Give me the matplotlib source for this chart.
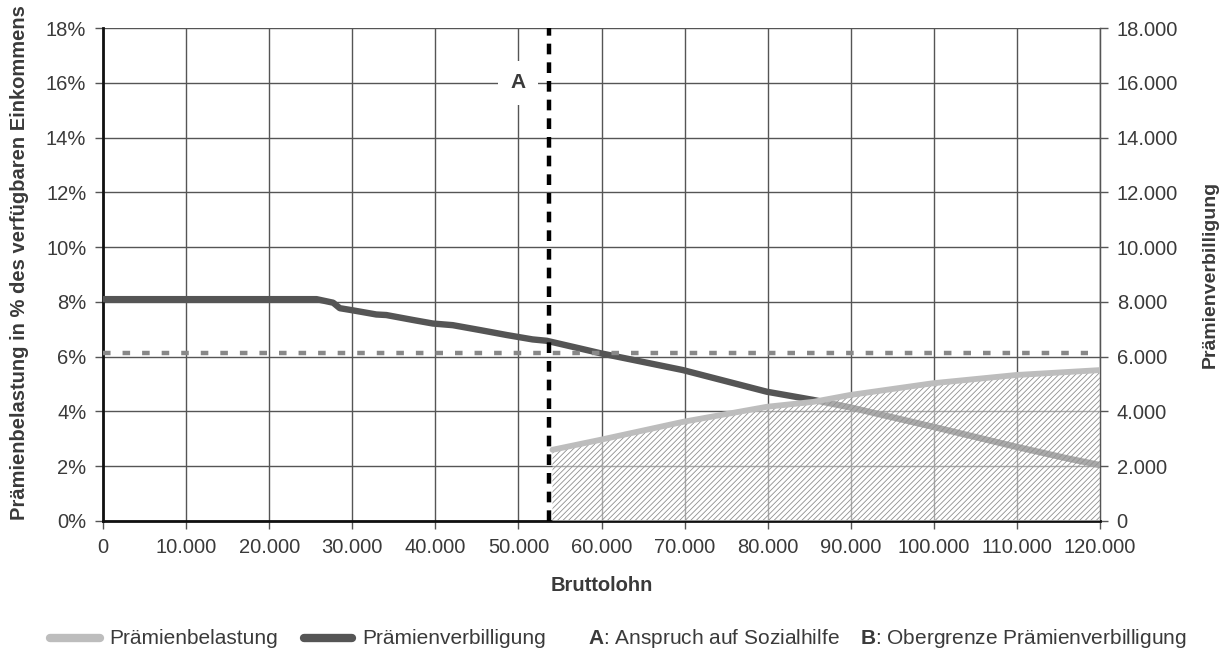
import matplotlib

matplotlib.use("Agg")
import matplotlib.pyplot as plt  # noqa: E402
from matplotlib.lines import Line2D  # noqa: E402
from matplotlib.ticker import FuncFormatter  # noqa: E402

plt.rcParams["font.family"] = ["Liberation Sans", "DejaVu Sans"]
plt.rcParams["mathtext.fontset"] = "custom"
plt.rcParams["mathtext.bf"] = "Liberation Sans:bold"
plt.rcParams["mathtext.rm"] = "Liberation Sans"
plt.rcParams["hatch.linewidth"] = 0.6

# Prämienverbilligung (CHF, right axis)
verb_lohn = [0, 25700, 27700, 28500, 29900, 32900, 34100, 37300, 39700, 42100,
             45400, 48600, 51700, 53400, 57400, 59800, 69800, 79900, 85500,
             89900, 99900, 109900, 116000, 120000]
verb_chf = [8100, 8100, 7970, 7770, 7700, 7540, 7520, 7340, 7210, 7150,
            6970, 6790, 6630, 6580, 6300, 6130, 5510, 4720, 4420,
            4150, 3440, 2710, 2290, 2040]

# Prämienbelastung (% of disposable income, left axis)
bel_lohn = [54100, 59800, 69800, 79900, 85500, 89900, 99900, 109900, 120000]
bel_pct = [2.6, 2.96, 3.62, 4.17, 4.35, 4.6, 5.03, 5.33, 5.51]

obergrenze_pct = 6.15
sozialhilfe_lohn = 53700

x_ticks = list(range(0, 120001, 10000))
y_ticks = list(range(0, 19, 2))

TXT = "#3a3a3a"


def dotted_thousands(v, _pos=None):
    return f"{int(round(v)):,}".replace(",", ".")


fig = plt.figure(figsize=(12.19, 6.55), dpi=100)
ax = fig.add_axes([103 / 1219, 1 - 521 / 655, (1100 - 103) / 1219, (521 - 28) / 655])

ax.set_xlim(0, 120000)
ax.set_ylim(0, 18)
ax.set_xticks(x_ticks)
ax.set_yticks(y_ticks)
ax.xaxis.set_major_formatter(FuncFormatter(dotted_thousands))
ax.yaxis.set_major_formatter(FuncFormatter(lambda v, p: f"{int(v)}%"))
ax.grid(True, color="#555555", linewidth=1.0, zorder=0)
ax.set_axisbelow(True)

for side in ("left", "bottom"):
    ax.spines[side].set_linewidth(2.0)
    ax.spines[side].set_color("#111111")
ax.spines["top"].set_visible(False)
ax.spines["right"].set_color("#555555")
ax.spines["right"].set_linewidth(1.0)
ax.tick_params(axis="both", direction="out", length=6, width=1, color="#555555",
               labelsize=14.5, labelcolor=TXT, pad=6)

# dark line: CHF converted onto the percent scale (18% <-> 18.000)
ax.plot(verb_lohn, [v / 1000 for v in verb_chf], color="#555555", linewidth=4.6,
        solid_capstyle="round", solid_joinstyle="round", zorder=3)

# hatched area below Prämienbelastung
ax.fill_between(bel_lohn, 0, bel_pct, facecolor=(1, 1, 1, 0.5), edgecolor="#8f8f8f",
                hatch="//////", linewidth=0, zorder=4)
ax.plot(bel_lohn, bel_pct, color="#bdbdbd", linewidth=4.2, solid_capstyle="round",
        zorder=5)

ax.plot([0, 118500], [obergrenze_pct, obergrenze_pct], color="#888888", linewidth=3.2,
        dashes=(1.7, 2.7), dash_capstyle="butt", zorder=6)
ax.plot([sozialhilfe_lohn, sozialhilfe_lohn], [0, 18], color="black", linewidth=3.2,
        dashes=(2.4, 1.8), dash_capstyle="butt", zorder=7, clip_on=False)

ax.text(50000, 16, "A", ha="center", va="center", fontsize=15, fontweight="bold",
        color=TXT, zorder=8,
        bbox=dict(boxstyle="square,pad=0.6", facecolor="white", edgecolor="none"))

sec = ax.secondary_yaxis("right", functions=(lambda v: v * 1000, lambda v: v / 1000))
sec.set_yticks([t * 1000 for t in y_ticks])
sec.yaxis.set_major_formatter(FuncFormatter(dotted_thousands))
sec.spines["right"].set_color("#555555")
sec.tick_params(direction="out", length=6, width=1, color="#555555", labelsize=14.5,
                labelcolor=TXT, pad=6)
sec.set_ylabel("Prämienverbilligung", fontsize=14, fontweight="bold", color=TXT,
               labelpad=17)

ax.set_ylabel("Prämienbelastung in % des verfügbaren Einkommens", fontsize=14.5,
              fontweight="bold", color=TXT)
ax.yaxis.set_label_coords(-0.074, 0.525)
ax.set_xlabel("Bruttolohn", fontsize=14.5, fontweight="bold", color=TXT, labelpad=14)

# legend row
ly = 1 - 638 / 655
fig.add_artist(Line2D([50 / 1219, 100 / 1219], [ly, ly], color="#bdbdbd", linewidth=6,
                      solid_capstyle="round", transform=fig.transFigure))
fig.text(109 / 1219, ly, "Prämienbelastung", fontsize=15, color=TXT, va="center")
fig.add_artist(Line2D([304 / 1219, 352 / 1219], [ly, ly], color="#555555", linewidth=6,
                      solid_capstyle="round", transform=fig.transFigure))
fig.text(362 / 1219, ly, "Prämienverbilligung", fontsize=15, color=TXT, va="center")
fig.text(588 / 1219, ly, r"$\mathbf{A}$: Anspruch auf Sozialhilfe", fontsize=15,
         color=TXT, va="center")
fig.text(860 / 1219, ly, r"$\mathbf{B}$: Obergrenze Prämienverbilligung", fontsize=15,
         color=TXT, va="center")

fig.savefig("out.png", dpi=100, facecolor="white")
